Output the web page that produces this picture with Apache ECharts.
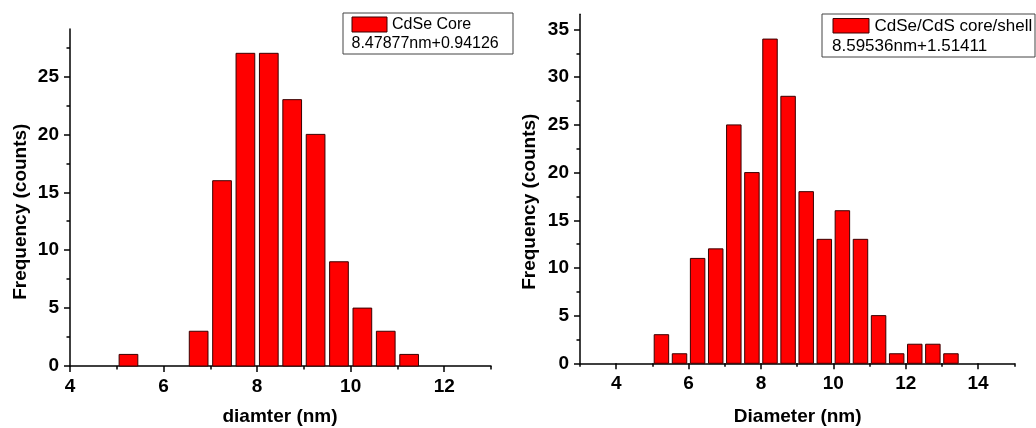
<!DOCTYPE html>
<html>
<head>
<meta charset="utf-8">
<title>CdSe size distributions</title>
<script src="https://cdn.jsdelivr.net/npm/echarts@6/dist/echarts.min.js"></script>
<style>
  html, body { margin: 0; padding: 0; background: #fff; }
  #chart { width: 1036px; height: 428px; }
</style>
</head>
<body>
<div id="chart"></div>
<script>
// Histogram bins (nm), 0.5 nm wide, and counts per bin
const binWidth = 0.5;
const coreBinStarts = [5.0, 5.5, 6.0, 6.5, 7.0, 7.5, 8.0, 8.5, 9.0, 9.5, 10.0, 10.5, 11.0];
const coreCounts    = [1,   0,   0,   3,   16,  27,  27,  23,  20,  9,   5,    3,    1];

const shellBinStarts = [5.0, 5.5, 6.0, 6.5, 7.0, 7.5, 8.0, 8.5, 9.0, 9.5, 10.0, 10.5, 11.0, 11.5, 12.0, 12.5, 13.0];
const shellCounts    = [3,   1,   11,  12,  25,  20,  34,  28,  18,  13,  16,   13,   5,    1,    2,    2,    1];

// Legend text
const coreName = 'CdSe Core';
const coreStats = '8.47877nm+0.94126';
const shellName = 'CdSe/CdS core/shell';
const shellStats = '8.59536nm+1.51411';

// Axis titles
const coreXTitle = 'diamter (nm)';
const shellXTitle = 'Diameter (nm)';
const yTitle = 'Frequency (counts)';

// Tick positions
const coreXMajor = [4, 6, 8, 10, 12];
const coreXMinor = [5, 7, 9, 11, 13];
const shellXMajor = [4, 6, 8, 10, 12, 14];
const shellXMinor = [3, 5, 7, 9, 11, 13, 15];
const coreYMajor = [0, 5, 10, 15, 20, 25];
const coreYMinor = [2.5, 7.5, 12.5, 17.5, 22.5, 27.5];
const shellYMajor = [0, 5, 10, 15, 20, 25, 30, 35];
const shellYMinor = [2.5, 7.5, 12.5, 17.5, 22.5, 27.5, 32.5];

const FONT = 'Arial, "Liberation Sans", Helvetica, sans-serif';
const BAR_FILL = '#ff0000';
const BAR_EDGE = '#3a0000';
const BAR_FRACTION = 0.8; // portion of each bin covered by its bar

function toRows(starts, counts) {
  return starts.map((s, i) => [s, s + binWidth, counts[i]]);
}

function renderBar(params, api) {
  const count = api.value(2);
  if (!count) return null;
  const pad = binWidth * (1 - BAR_FRACTION) / 2;
  const topLeft = api.coord([api.value(0) + pad, count]);
  const bottomRight = api.coord([api.value(1) - pad, 0]);
  return {
    type: 'rect',
    shape: {
      x: topLeft[0],
      y: topLeft[1],
      width: bottomRight[0] - topLeft[0],
      height: bottomRight[1] - topLeft[1]
    },
    style: { fill: BAR_FILL, stroke: BAR_EDGE, lineWidth: 1 }
  };
}

const axisLineStyle = { color: '#000', width: 1.5 };

function majorAxis(gridIndex, position, min, max, ticks) {
  return {
    type: 'value', gridIndex, position, min, max,
    axisLine: { show: true, onZero: false, lineStyle: axisLineStyle },
    axisTick: { show: true, inside: false, length: 6, customValues: ticks, lineStyle: axisLineStyle },
    axisLabel: {
      show: true, customValues: ticks, color: '#000',
      fontFamily: FONT, fontWeight: 'bold', fontSize: 19, margin: 11
    },
    splitLine: { show: false },
    minorTick: { show: false }
  };
}

function minorAxis(gridIndex, position, min, max, ticks) {
  return {
    type: 'value', gridIndex, position, min, max, offset: 0,
    axisLine: { show: false, onZero: false },
    axisTick: { show: true, inside: false, length: 3.5, customValues: ticks, lineStyle: axisLineStyle },
    axisLabel: { show: false },
    splitLine: { show: false }
  };
}

function legendBox(left, top, width, height, swatch, nameX, nameY, statsX, statsY, name, stats, fontSize) {
  return [
    {
      type: 'rect', silent: true,
      shape: { x: left, y: top, width, height },
      style: { fill: '#fff', stroke: '#444', lineWidth: 1 }
    },
    {
      type: 'rect', silent: true,
      shape: swatch,
      style: { fill: BAR_FILL, stroke: BAR_EDGE, lineWidth: 1 }
    },
    {
      type: 'text', silent: true, x: nameX, y: nameY,
      style: { text: name, fill: '#000', font: fontSize + 'px ' + FONT, align: 'left', verticalAlign: 'middle' }
    },
    {
      type: 'text', silent: true, x: statsX, y: statsY,
      style: { text: stats, fill: '#000', font: fontSize + 'px ' + FONT, align: 'left', verticalAlign: 'middle' }
    }
  ];
}

function title(text, x, y, rotation) {
  return {
    type: 'text', silent: true, x, y, rotation: rotation || 0,
    style: { text, fill: '#000', font: 'bold 19px ' + FONT, align: 'center', verticalAlign: 'middle' }
  };
}

const chart = echarts.init(document.getElementById('chart'), null, { renderer: 'canvas' });

chart.setOption({
  animation: false,
  backgroundColor: '#fff',
  grid: [
    { left: 70, top: 29, width: 421, height: 337 },
    { left: 580, top: 14.3, width: 434.3, height: 349 }
  ],
  xAxis: [
    majorAxis(0, 'bottom', 4, 13, coreXMajor),
    minorAxis(0, 'bottom', 4, 13, coreXMinor),
    majorAxis(1, 'bottom', 3, 15, shellXMajor),
    minorAxis(1, 'bottom', 3, 15, shellXMinor)
  ],
  yAxis: [
    majorAxis(0, 'left', 0, 29.1, coreYMajor),
    minorAxis(0, 'left', 0, 29.1, coreYMinor),
    majorAxis(1, 'left', 0, 36.6, shellYMajor),
    minorAxis(1, 'left', 0, 36.6, shellYMinor)
  ],
  series: [
    {
      name: coreName, type: 'custom', xAxisIndex: 0, yAxisIndex: 0,
      renderItem: renderBar, encode: { x: [0, 1], y: 2 },
      data: toRows(coreBinStarts, coreCounts)
    },
    {
      name: shellName, type: 'custom', xAxisIndex: 2, yAxisIndex: 2,
      renderItem: renderBar, encode: { x: [0, 1], y: 2 },
      data: toRows(shellBinStarts, shellCounts)
    }
  ],
  graphic: [
    ...legendBox(343, 13, 170, 41, { x: 352, y: 17, width: 35, height: 15 },
      392, 25, 351.5, 43.5, coreName, coreStats, 16),
    ...legendBox(822, 14, 213, 43, { x: 833, y: 18.5, width: 36, height: 14.5 },
      874.5, 26, 832, 46, shellName, shellStats, 17),
    title(yTitle, 20.7, 211.7, Math.PI / 2),
    title(coreXTitle, 280, 416.7),
    title(yTitle, 530, 201.7, Math.PI / 2),
    title(shellXTitle, 797.7, 416.7)
  ]
});
</script>
</body>
</html>
